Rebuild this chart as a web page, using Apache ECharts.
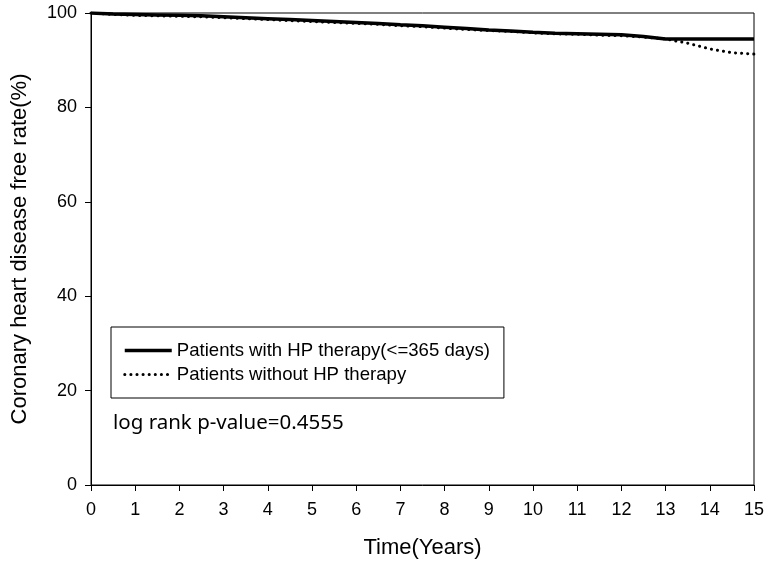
<!DOCTYPE html>
<html>
<head>
<meta charset="utf-8">
<script src="https://cdn.jsdelivr.net/npm/echarts@6/dist/echarts.min.js"></script>
<style>
  html, body { margin: 0; padding: 0; background: #fff; }
  #chart { width: 769px; height: 568px; }
</style>
</head>
<body>
<div id="chart"></div>
<script>
// follow-up time (years)
const years = [0, 0.5, 1, 1.5, 2, 2.5, 3, 3.5, 4, 4.5, 5, 5.5, 6, 6.5, 7, 7.5,
  8, 8.5, 9, 9.5, 10, 10.5, 11, 11.5, 12, 12.5, 13, 13.5, 14, 14.5, 15];
// free rate (%) - with HP therapy
const withHP = [100, 99.8, 99.7, 99.6, 99.5, 99.4, 99.2, 99.0, 98.8, 98.6, 98.4, 98.2,
  98.0, 97.8, 97.5, 97.3, 97.0, 96.7, 96.4, 96.2, 95.9, 95.7, 95.6, 95.5, 95.4, 95.0,
  94.5, 94.5, 94.5, 94.5, 94.5];
// free rate (%) - without HP therapy
const withoutHP = [100, 99.7, 99.5, 99.4, 99.3, 99.2, 99.0, 98.8, 98.6, 98.4, 98.2, 98.0,
  97.8, 97.6, 97.3, 97.1, 96.8, 96.5, 96.3, 96.1, 95.8, 95.6, 95.5, 95.3, 95.2, 94.9,
  94.5, 93.6, 92.4, 91.6, 91.3];
const seriesNames = ['Patients with HP therapy(<=365 days)', 'Patients without HP therapy'];

const chart = echarts.init(document.getElementById('chart'));
const font = 'Liberation Sans, Arial, sans-serif';

const solidStyle = { color: '#000', width: 3.5 };
const dotStyle = { color: '#000', width: 3, type: [0.1, 6], cap: 'round' };

chart.setOption({
  animation: false,
  backgroundColor: '#fff',
  grid: {
    left: 91, right: 15, top: 13, bottom: 83,
    show: true, borderColor: '#000', borderWidth: 1
  },
  legend: {
    orient: 'vertical',
    left: 111, top: 327,
    padding: [14, 14, 14, 12],
    itemWidth: 47, itemHeight: 14, itemGap: 5,
    borderColor: '#000', borderWidth: 1,
    textStyle: { fontFamily: font, fontSize: 18.6, color: '#000' },
    data: [
      { name: seriesNames[0], itemStyle: { opacity: 0 }, lineStyle: solidStyle },
      { name: seriesNames[1], itemStyle: { opacity: 0 }, lineStyle: dotStyle }
    ]
  },
  xAxis: {
    type: 'value', min: 0, max: 15, interval: 1,
    name: 'Time(Years)', nameLocation: 'middle', nameGap: 52,
    nameTextStyle: { fontFamily: font, fontSize: 22, color: '#000' },
    axisLine: { onZero: false, lineStyle: { color: '#000', width: 1 } },
    axisTick: { show: true, inside: false, length: 6, lineStyle: { color: '#000' } },
    axisLabel: { fontFamily: font, fontSize: 18, color: '#000', margin: 16 },
    splitLine: { show: false }
  },
  yAxis: {
    type: 'value', min: 0, max: 100, interval: 20,
    name: 'Coronary heart disease free rate(%)', nameLocation: 'middle', nameGap: 60,
    nameTextStyle: { fontFamily: font, fontSize: 22, color: '#000' },
    axisLine: { show: true, onZero: false, lineStyle: { color: '#000', width: 1 } },
    axisTick: { show: true, inside: false, length: 6, lineStyle: { color: '#000' } },
    axisLabel: { fontFamily: font, fontSize: 18, color: '#000', margin: 14 },
    splitLine: { show: false }
  },
  graphic: [{
    type: 'text', left: 113, top: 413,
    style: { text: 'log rank p-value=0.4555', font: '20.5px "Noto Sans", "Open Sans", sans-serif', fill: '#000' }
  }],
  series: [
    {
      name: seriesNames[0], type: 'line', symbol: 'none',
      data: years.map((t, i) => [t, withHP[i]]),
      lineStyle: solidStyle,
      itemStyle: { color: '#000' },
      z: 3
    },
    {
      name: seriesNames[1], type: 'line', symbol: 'none',
      data: years.map((t, i) => [t, withoutHP[i]]),
      lineStyle: dotStyle,
      itemStyle: { color: '#000' },
      z: 2
    }
  ]
});
</script>
</body>
</html>
